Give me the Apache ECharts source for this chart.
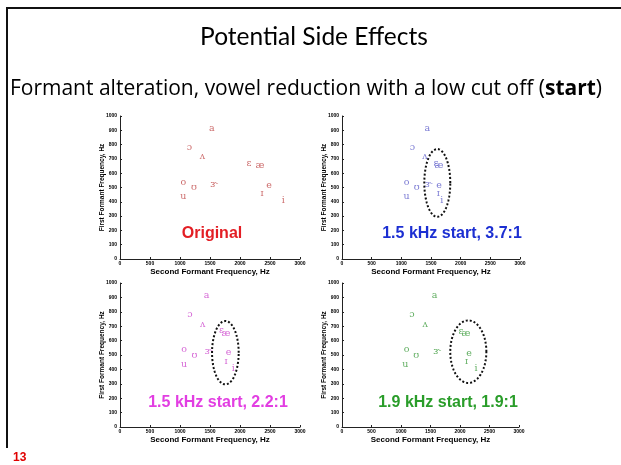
<!DOCTYPE html>
<html><head><meta charset="utf-8">
<script src="https://cdn.jsdelivr.net/npm/echarts@6/dist/echarts.min.js"></script>
<style>html,body{margin:0;padding:0;background:#fff}#c{width:621px;height:465px}</style>
</head><body><div id="c"></div>
<script>
// ---- data ----
const vowels = ['a','ɔ','ʌ','ɛ','æ','o','ʊ','ɝ','u','e','ɪ','i'];

const f2Original = [1530,1155,1372,2150,2333,1055,1233,1567,1055,2483,2367,2722];
const f1Original = [910,781,716,669,652,536,499,522,434,515,457,410];

const f2Start15a = [1438,1186,1399,1584,1635,1090,1259,1455,1090,1635,1624,1680];
const f1Start15a = [914,781,715,667,652,536,497,522,434,515,455,406];

const f2Start15b = [1444,1167,1378,1689,1767,1067,1239,1472,1067,1811,1767,1889];
const f1Start15b = [912,779,715,668,652,535,498,523,435,514,456,407];

const f2Start19 = [1568,1186,1411,2018,2102,1096,1259,1607,1074,2152,2112,2270];
const f1Start19 = [912,779,715,663,652,535,496,523,433,512,456,407];

// ellipse: [centerF2, centerF1, radiusF2, radiusF1]
const ellipseStart15a = [1606, 532, 219, 237];
const ellipseStart15b = [1756, 516, 222, 220];
const ellipseStart19  = [2141, 523, 306, 217];

const panelTitles = ['Original','1.5 kHz start, 3.7:1','1.5 kHz start, 2.2:1','1.9 kHz start, 1.9:1'];
const xRange = [0, 3000], xStep = 500;
const yRange = [0, 1000], yStep = 100;
const xName = 'Second Formant Frequency, Hz';
const yName = 'First Formant Frequency, Hz';
const slideTitle = 'Potential Side Effects';
const subtitleParts = ['Formant alteration, vowel reduction with a low cut off (', 'start', ')'];
const slideNumber = '13';

// ---- layout ----
const panels = [
  {f2:f2Original, f1:f1Original, ell:null, grid:{left:120, top:116, width:180, height:143}, sym:'#c04848', lab:'#e31e24', lx:212, ly:234},
  {f2:f2Start15a, f1:f1Start15a, ell:ellipseStart15a, grid:{left:342, top:116, width:178, height:143}, sym:'#5a5ac8', lab:'#1c2fd2', lx:452, ly:234},
  {f2:f2Start15b, f1:f1Start15b, ell:ellipseStart15b, grid:{left:120, top:283, width:180, height:144}, sym:'#cc44cc', lab:'#e23ee2', lx:218, ly:403},
  {f2:f2Start19, f1:f1Start19, ell:ellipseStart19, grid:{left:342, top:283, width:177, height:144}, sym:'#3a9a3a', lab:'#2a9d2a', lx:448, ly:403}
];

const grids=[], xAxes=[], yAxes=[], series=[], graphics=[];
const tickFont = {fontSize:5, fontWeight:'bold', fontFamily:'Liberation Sans', color:'#000', formatter:v=>String(v)};
panels.forEach((p,i)=>{
  grids.push(Object.assign({containLabel:false}, p.grid));
  xAxes.push({gridIndex:i, type:'value', min:xRange[0], max:xRange[1], interval:xStep,
    axisLine:{show:true, onZero:false, lineStyle:{color:'#222', width:1}},
    axisTick:{show:true, inside:true, length:2, lineStyle:{color:'#222'}},
    splitLine:{show:false},
    axisLabel:Object.assign({margin:2}, tickFont),
    name:xName, nameLocation:'middle', nameGap:9, nameMoveOverlap:false,
    nameTextStyle:{fontSize:8, fontWeight:'bold', fontFamily:'Liberation Sans', color:'#000'}});
  yAxes.push({gridIndex:i, type:'value', min:yRange[0], max:yRange[1], interval:yStep,
    axisLine:{show:true, onZero:false, lineStyle:{color:'#222', width:1}},
    axisTick:{show:true, inside:true, length:2, lineStyle:{color:'#222'}},
    splitLine:{show:false},
    axisLabel:Object.assign({margin:3}, tickFont),
    name:yName, nameLocation:'middle', nameGap:14, nameRotate:90, nameMoveOverlap:false,
    nameTextStyle:{fontSize:6.5, fontWeight:'bold', fontFamily:'Liberation Sans', color:'#000'}});
  series.push({type:'scatter', xAxisIndex:i, yAxisIndex:i, symbolSize:1,
    itemStyle:{color:'rgba(0,0,0,0)'}, silent:true,
    data:p.f2.map((x,k)=>({value:[x,p.f1[k]], name:vowels[k]})),
    label:{show:true, position:'inside', formatter:'{b}', color:p.sym, fontSize:9.5, fontFamily:'DejaVu Serif'}});
  if(p.ell){
    series.push({type:'custom', xAxisIndex:i, yAxisIndex:i, silent:true,
      data:[p.ell],
      renderItem:function(params, api){
        const cx=api.value(0), cy=api.value(1), rx=api.value(2), ry=api.value(3);
        const pts=[];
        for(let k=0;k<=90;k++){const t=k/90*2*Math.PI; pts.push(api.coord([cx+rx*Math.cos(t), cy+ry*Math.sin(t)]));}
        return {type:'polyline', shape:{points:pts}, style:{fill:'none', stroke:'#111', lineWidth:2, lineDash:[2,2]}};
      }});
  }
  graphics.push({type:'text', x:p.lx, y:p.ly, style:{text:panelTitles[i], fill:p.lab, font:'bold 16px "Liberation Sans"', textAlign:'center', textVerticalAlign:'middle'}});
});

graphics.push({type:'line', shape:{x1:6, y1:8, x2:621, y2:8}, style:{stroke:'#111', lineWidth:2}});
graphics.push({type:'line', shape:{x1:7, y1:7, x2:7, y2:448}, style:{stroke:'#111', lineWidth:2}});
graphics.push({type:'text', x:13, y:458, style:{text:slideNumber, fill:'#e00000', font:'bold 12px "Liberation Sans"', textVerticalAlign:'middle'}});

const chart = echarts.init(document.getElementById('c'), null, {renderer:'canvas'});
chart.setOption({
  backgroundColor:'#fff',
  animation:false,
  title:[
    {text:slideTitle, left:309, textAlign:'center', top:20, textStyle:{fontSize:24.5, fontWeight:'normal', fontFamily:'Lato', color:'#000'}},
    {text:'{n|'+subtitleParts[0]+'}{b|'+subtitleParts[1]+'}{n|'+subtitleParts[2]+'}', left:301, textAlign:'center', top:74,
      textStyle:{fontWeight:'normal', rich:{n:{fontSize:21, fontFamily:'Open Sans', fontWeight:'normal', color:'#000'}, b:{fontSize:21, fontFamily:'Open Sans', fontWeight:'bold', color:'#000'}}}}
  ],
  grid:grids, xAxis:xAxes, yAxis:yAxes, series:series, graphic:graphics
});
</script></body></html>
